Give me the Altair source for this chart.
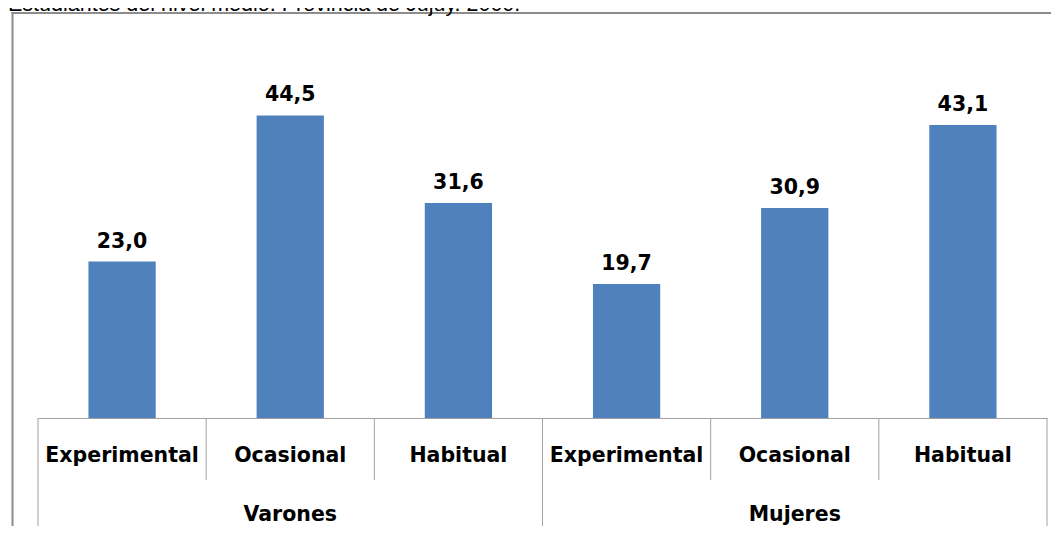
import altair as alt
import pandas as pd

# ---- data ----
title_text = "Estudiantes del nivel medio. Provincia de Jujuy. 2009."
groups = ["Varones", "Varones", "Varones", "Mujeres", "Mujeres", "Mujeres"]
categories = ["Experimental", "Ocasional", "Habitual", "Experimental", "Ocasional", "Habitual"]
values = [23.0, 44.5, 31.6, 19.7, 30.9, 43.1]
group_names = ["Varones", "Mujeres"]

keys = [g + "|" + c for g, c in zip(groups, categories)]
df = pd.DataFrame({
    "key": keys,
    "group": groups,
    "category": categories,
    "value": values,
    "label": [f"{v:.1f}".replace(".", ",") for v in values],
})

# group label sits on the middle category of each group
grp_df = pd.DataFrame({"key": [g + "|Ocasional" for g in group_names], "group": group_names})
# group separators: start of each group and end of the last one
sep_start = pd.DataFrame({"key": [g + "|Experimental" for g in group_names]})
sep_end = pd.DataFrame({"key": [keys[-1]]})
# inner separators between categories inside each group
inner = pd.DataFrame({"key": [k for k in keys if not k.endswith("|Experimental")]})
title_df = pd.DataFrame({"t": [title_text]})

W, H = 1009, 340
BAR = "#4F81BD"
LINE = "#a0a0a0"
FRAME = "#8c8c8c"
FONT = "DejaVu Sans"
FS = 20.5

xscale = alt.Scale(paddingInner=0, paddingOuter=0)
xaxis = alt.Axis(labels=False, ticks=False, title=None, domainColor=LINE, domainWidth=1, grid=False)


def X(band=0.5):
    return alt.X("key:N", sort=keys, scale=xscale, axis=xaxis, bandPosition=band)


yenc = alt.Y("value:Q", scale=alt.Scale(domain=[0, 50]), axis=None)

bars = alt.Chart(df).mark_bar(color=BAR, width=alt.RelativeBandSize(0.4)).encode(x=X(), y=yenc)

bar_labels = alt.Chart(df).mark_text(
    font=FONT, fontSize=FS, fontWeight="bold", color="black", baseline="alphabetic", dy=-14
).encode(x=X(), y=yenc, text="label:N")

cat_labels = alt.Chart(df).mark_text(
    font=FONT, fontSize=FS, fontWeight="bold", color="black", baseline="alphabetic"
).encode(x=X(), y=alt.value(H + 44), text="category:N")

grp_labels = alt.Chart(grp_df).mark_text(
    font=FONT, fontSize=FS, fontWeight="bold", color="black", baseline="alphabetic"
).encode(x=X(), y=alt.value(H + 103), text="group:N")

inner_rules = alt.Chart(inner).mark_rule(color=LINE, strokeWidth=1).encode(
    x=X(0), y=alt.value(H), y2=alt.value(H + 62)
)
sep_rules_a = alt.Chart(sep_start).mark_rule(color=LINE, strokeWidth=1).encode(
    x=X(0), y=alt.value(H), y2=alt.value(H + 250)
)
sep_rules_b = alt.Chart(sep_end).mark_rule(color=LINE, strokeWidth=1).encode(
    x=X(1), y=alt.value(H), y2=alt.value(H + 250)
)

# outer chart frame (only top and left edges are inside the picture)
frame_top = alt.Chart(title_df).mark_rule(color=FRAME, strokeWidth=2).encode(
    x=alt.value(-26.5), x2=alt.value(W + 200), y=alt.value(-65)
)
frame_left = alt.Chart(title_df).mark_rule(color=FRAME, strokeWidth=2).encode(
    x=alt.value(-25.5), y=alt.value(-66), y2=alt.value(H + 300)
)

title = alt.Chart(title_df).mark_text(
    font="Liberation Sans", fontSize=21.5, color="black", align="left", baseline="alphabetic"
).encode(x=alt.value(-30), y=alt.value(-67), text="t:N")

chart = alt.layer(
    frame_top, frame_left, bars, bar_labels, inner_rules, sep_rules_a, sep_rules_b,
    cat_labels, grp_labels, title
).properties(
    width=W, height=H,
    padding={"left": 30, "top": 70, "right": 4, "bottom": 108},
    autosize=alt.AutoSizeParams(type="none"),
).configure_view(stroke=None)

chart.save("out.html", embed_options={"renderer": "svg", "actions": False})
